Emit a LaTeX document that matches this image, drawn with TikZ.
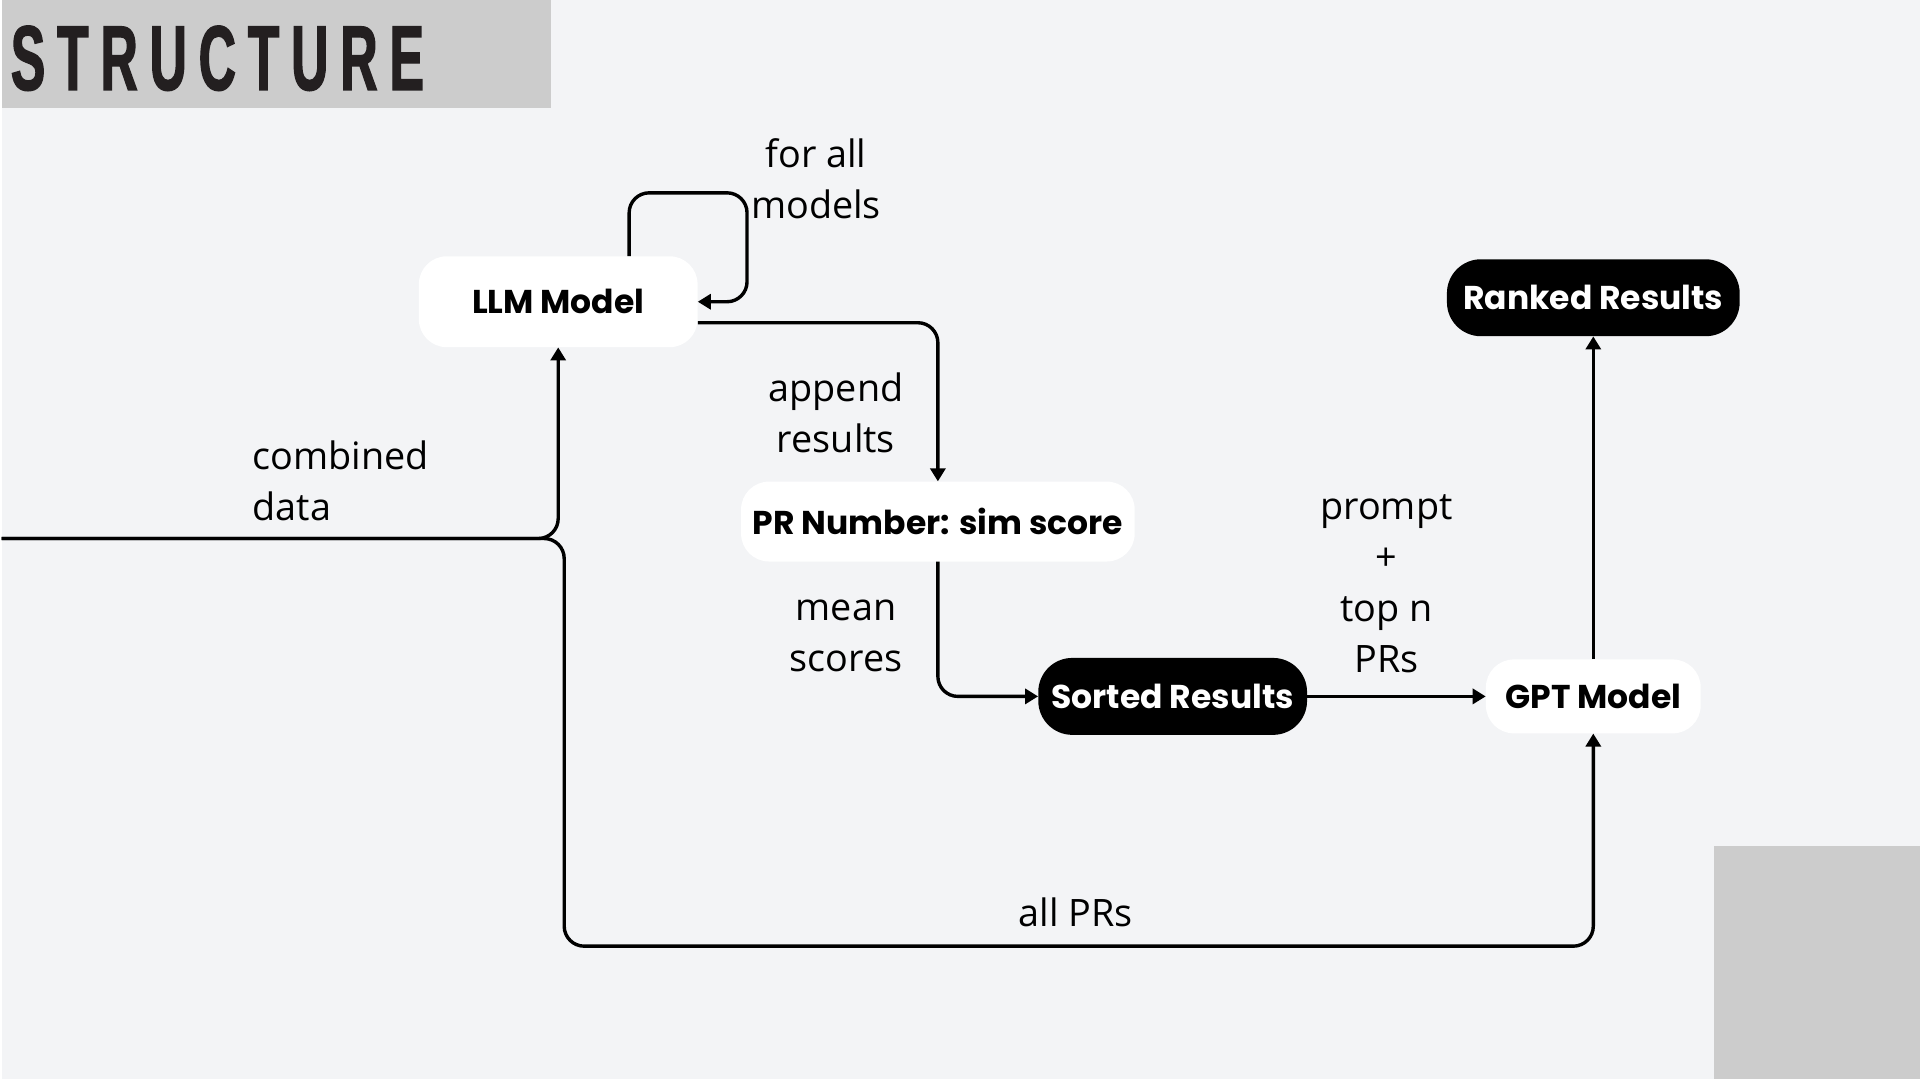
\documentclass[tikz,border=0pt]{standalone}
\usepackage{fontspec}
\setmainfont{Open Sans}
\newfontfamily\boxfont{Poppins}
\newfontfamily\headfont[FakeStretch=0.56,LetterSpace=13,FakeBold=1.5]{Liberation Sans}
\usetikzlibrary{positioning,calc,arrows.meta}
\definecolor{bggray}{HTML}{F3F4F6}
\definecolor{bargray}{HTML}{CCCCCC}
\definecolor{headink}{HTML}{231F20}

\tikzset{
  box/.style={fill=white, rounded corners=28pt, inner sep=0pt,
    font=\boxfont\bfseries\fontsize{33}{38}\selectfont},
  darkbox/.style={box, fill=black, text=white, rounded corners=34pt},
  flow/.style={line width=3.4pt, rounded corners=20pt, -{Triangle[length=13pt,width=15pt]}},
  lbl/.style={font=\fontsize{37.8}{51}\selectfont, align=center},
}

\begin{document}
\begin{tikzpicture}[x=1pt, y=-1pt]
    \fill[bggray] (0,0) rectangle (1920,1080);
    \fill[bargray] (0,0) rectangle (550,108);
    \fill[bargray] (1714,847) rectangle (1920,1080);
    \node[anchor=base west, inner sep=0pt, text=headink,
      font=\headfont\bfseries\fontsize{92}{100}\selectfont] (title) at (9,90) {STRUCTURE};
    %
    \node[box, minimum width=279pt, minimum height=91pt] (llm) at (557,302) {LLM Model};
    \node[box, minimum width=394pt, minimum height=80pt] (pr) at (937,522) {PR Number: sim score};
    \node[darkbox, minimum width=269pt, minimum height=77pt] (sorted) at (1172,697) {Sorted Results};
    \node[box, minimum width=215pt, minimum height=74pt] (gpt) at (1593,697) {GPT Model};
    \node[darkbox, minimum width=293pt, minimum height=77pt] (ranked) at (1593,298) {Ranked Results};
    %
    \coordinate (loop) at (746,193);
    \coordinate (in) at (0,539);
    \coordinate (split) at (563,539);
    \coordinate (low) at (1000,947);
    %
    \draw[flow] ([xshift=71pt]llm.north) |- (loop) |- (llm.east);
    \draw[flow] ([yshift=-21pt]llm.east) -| (pr.north);
    \draw[flow] (in) -| (llm.south);
    \draw[flow] (in) -- (split) |- (low) -| (gpt.south);
    \draw[flow] (pr.south) |- (sorted.west);
    \draw[flow] (sorted) -- (gpt);
    \draw[flow] (gpt) -- (ranked);
    %
    \node[lbl] (formodels) at (815,179) {for all\\models};
    \node[lbl] (appendlbl) at (835,413) {append\\results};
    \node[lbl, align=left, anchor=west, inner sep=0pt] (combined) at (251,481) {combined\\data};
    \node[lbl] (meanlbl) at (845,636) {mean\\scores};
    \node[lbl] (promptlbl) at (1386,584) {prompt\\+\\top n\\PRs};
    \node[lbl] (allprs) at (1075,913) {all PRs};
\end{tikzpicture}
\end{document}
